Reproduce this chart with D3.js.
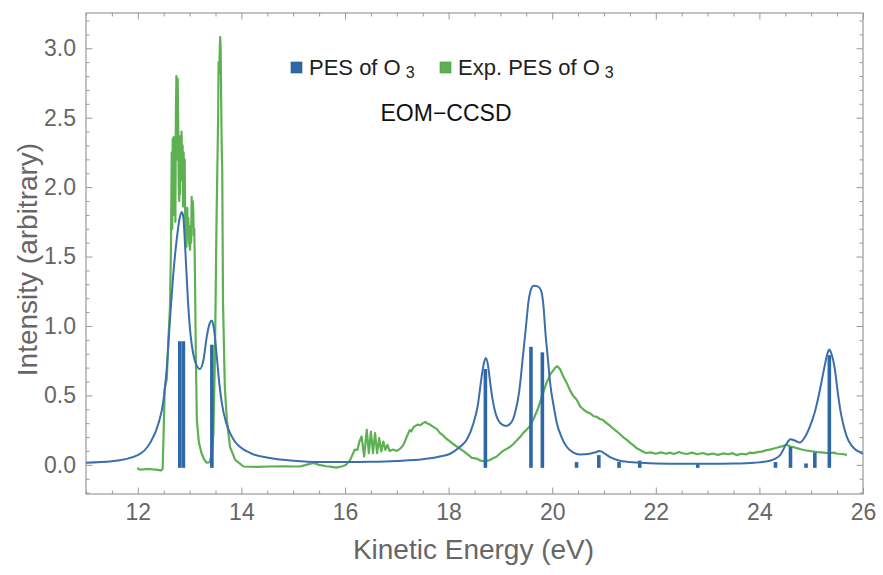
<!DOCTYPE html>
<html>
<head>
<meta charset="utf-8">
<script src="https://cdn.jsdelivr.net/npm/d3@7"></script>
<style>
body { margin: 0; background: #fff; }
text { font-family: "Liberation Sans", Arial, sans-serif; }
.axis text { fill: #666; font-size: 23px; }
.axis line { stroke: #999; }
</style>
</head>
<body>
<svg id="chart" width="883" height="575"></svg>
<script>
// calculated stick spectrum: [kinetic energy (eV), intensity]
const pesSticks = [
    [12.81, 0.89], [12.88, 0.89], [13.43, 0.865], [18.71, 0.69],
    [19.59, 0.85], [19.81, 0.81], [20.47, 0.02], [20.9, 0.07],
    [21.29, 0.02], [21.69, 0.03], [22.81, 0.005], [24.31, 0.02],
    [24.6, 0.13], [24.9, 0.01], [25.07, 0.09], [25.35, 0.79]
];

// broadened calculated spectrum
const pesCurve = [
    [11.0, 0.015], [11.5, 0.025], [12.0, 0.07], [12.24, 0.16], [12.4, 0.3],
    [12.49, 0.45], [12.56, 0.7], [12.62, 1.04], [12.68, 1.35], [12.75, 1.62],
    [12.81, 1.78], [12.85, 1.82], [12.88, 1.78], [12.91, 1.6], [12.97, 1.17],
    [13.02, 0.93], [13.07, 0.8], [13.13, 0.72], [13.2, 0.69], [13.27, 0.76],
    [13.33, 0.92], [13.39, 1.02], [13.43, 1.04], [13.47, 0.98], [13.52, 0.8],
    [13.57, 0.6], [13.62, 0.45], [13.7, 0.31], [13.78, 0.23], [13.87, 0.17],
    [13.97, 0.13], [14.2, 0.08], [14.55, 0.05], [15.0, 0.03], [15.5, 0.02],
    [16.0, 0.02], [16.5, 0.022], [17.0, 0.028], [17.5, 0.04], [17.83, 0.06],
    [18.03, 0.08], [18.22, 0.13], [18.35, 0.18], [18.48, 0.3], [18.56, 0.42],
    [18.64, 0.64], [18.68, 0.73], [18.72, 0.77], [18.76, 0.72], [18.8, 0.6],
    [18.85, 0.47], [18.9, 0.38], [19.0, 0.3], [19.11, 0.28], [19.2, 0.3],
    [19.28, 0.37], [19.36, 0.52], [19.44, 0.8], [19.5, 1.02], [19.54, 1.17],
    [19.58, 1.25], [19.64, 1.29], [19.72, 1.285], [19.78, 1.26], [19.83, 1.15],
    [19.87, 0.95], [19.92, 0.75], [19.96, 0.59], [20.03, 0.42], [20.09, 0.3],
    [20.18, 0.2], [20.28, 0.13], [20.4, 0.09], [20.54, 0.075], [20.7, 0.078],
    [20.83, 0.09], [20.92, 0.1], [21.0, 0.085], [21.12, 0.055], [21.3, 0.03],
    [21.63, 0.017], [22.0, 0.01], [22.5, 0.007], [23.0, 0.007], [23.5, 0.009],
    [23.9, 0.015], [24.2, 0.03], [24.4, 0.07], [24.52, 0.15], [24.6, 0.185],
    [24.68, 0.175], [24.78, 0.16], [24.88, 0.2], [24.98, 0.28], [25.07, 0.38],
    [25.14, 0.49], [25.2, 0.6], [25.27, 0.73], [25.32, 0.81], [25.35, 0.83],
    [25.39, 0.8], [25.46, 0.68], [25.51, 0.53], [25.56, 0.4], [25.62, 0.29],
    [25.69, 0.2], [25.8, 0.13], [25.97, 0.085], [26.0, 0.08]
];

// experimental spectrum
const expCurve = [
    [12.0, -0.02], [12.01, -0.03], [12.05, -0.035], [12.2, -0.03], [12.35, -0.035],
    [12.45, -0.04], [12.48, -0.03], [12.5, 0.25], [12.52, 0.55], [12.56, 0.62],
    [12.59, 0.9], [12.62, 1.12], [12.64, 1.55], [12.655, 2.25], [12.665, 1.7],
    [12.675, 2.35], [12.685, 1.95], [12.695, 2.36], [12.705, 1.8], [12.715, 2.2],
    [12.725, 1.75], [12.735, 2.5], [12.745, 2.8], [12.76, 2.2], [12.77, 2.78],
    [12.78, 2.45], [12.79, 2.0], [12.8, 1.9], [12.81, 2.3], [12.815, 1.95],
    [12.825, 2.37], [12.835, 2.05], [12.845, 2.4], [12.855, 2.1], [12.865, 2.3],
    [12.875, 1.86], [12.885, 2.25], [12.895, 1.95], [12.905, 2.2], [12.915, 1.76],
    [12.93, 1.7], [12.94, 1.57], [12.955, 1.85], [12.965, 1.65], [12.975, 1.78],
    [12.99, 1.6], [13.01, 1.55], [13.02, 1.72], [13.03, 1.6], [13.04, 1.93],
    [13.05, 1.75], [13.06, 1.9], [13.07, 1.84], [13.08, 1.65], [13.09, 1.7],
    [13.1, 1.48], [13.12, 0.8], [13.14, 0.32], [13.18, 0.16], [13.23, 0.085],
    [13.28, 0.04], [13.33, 0.015], [13.39, 0.02], [13.43, 0.08], [13.46, 0.23],
    [13.49, 0.8], [13.52, 1.76], [13.55, 2.48], [13.56, 2.9], [13.57, 2.82],
    [13.59, 3.08], [13.6, 3.0], [13.61, 2.6], [13.62, 2.3], [13.63, 2.12],
    [13.645, 1.17], [13.68, 0.56], [13.72, 0.32], [13.78, 0.13], [13.88, 0.036],
    [14.04, -0.012], [14.3, -0.015], [14.55, -0.012], [14.8, -0.01], [15.0, -0.012],
    [15.13, -0.012], [15.25, 0.0], [15.39, 0.013], [15.5, 0.0], [15.64, -0.01],
    [15.75, -0.015], [15.83, -0.02], [15.95, -0.01], [16.02, 0.0], [16.1, 0.036],
    [16.19, 0.11], [16.24, 0.108], [16.28, 0.17], [16.32, 0.204], [16.37, 0.06],
    [16.42, 0.252], [16.46, 0.084], [16.5, 0.24], [16.54, 0.084], [16.58, 0.228],
    [16.62, 0.084], [16.66, 0.192], [16.7, 0.096], [16.74, 0.168], [16.78, 0.108],
    [16.82, 0.144], [16.86, 0.1], [16.93, 0.11], [17.0, 0.1], [17.06, 0.115],
    [17.12, 0.14], [17.16, 0.17], [17.19, 0.2], [17.25, 0.25], [17.28, 0.24],
    [17.32, 0.27], [17.36, 0.28], [17.4, 0.29], [17.45, 0.285], [17.51, 0.3],
    [17.55, 0.31], [17.58, 0.3], [17.64, 0.29], [17.72, 0.27], [17.78, 0.255],
    [17.83, 0.23], [17.9, 0.21], [17.95, 0.19], [18.02, 0.17], [18.09, 0.15],
    [18.2, 0.12], [18.28, 0.1], [18.35, 0.08], [18.45, 0.05], [18.54, 0.045],
    [18.62, 0.03], [18.7, 0.025], [18.8, 0.035], [18.87, 0.05], [18.93, 0.06],
    [19.0, 0.085], [19.05, 0.1], [19.12, 0.115], [19.19, 0.13], [19.25, 0.15],
    [19.3, 0.17], [19.38, 0.2], [19.44, 0.23], [19.5, 0.25], [19.57, 0.28],
    [19.64, 0.33], [19.72, 0.4], [19.8, 0.49], [19.89, 0.59], [19.96, 0.65],
    [20.02, 0.68], [20.06, 0.7], [20.1, 0.71], [20.15, 0.69], [20.21, 0.64],
    [20.28, 0.59], [20.34, 0.54], [20.4, 0.5], [20.47, 0.47], [20.54, 0.42],
    [20.6, 0.4], [20.67, 0.38], [20.74, 0.37], [20.8, 0.35], [20.86, 0.345],
    [20.92, 0.33], [20.97, 0.325], [21.02, 0.31], [21.07, 0.295], [21.12, 0.28],
    [21.18, 0.26], [21.25, 0.24], [21.31, 0.22], [21.37, 0.2], [21.44, 0.18],
    [21.5, 0.16], [21.57, 0.14], [21.63, 0.12], [21.68, 0.11], [21.73, 0.1],
    [21.78, 0.09], [21.82, 0.085], [21.9, 0.09], [22.0, 0.08], [22.1, 0.09],
    [22.2, 0.08], [22.27, 0.088], [22.35, 0.078], [22.45, 0.092], [22.5, 0.085],
    [22.6, 0.078], [22.7, 0.088], [22.8, 0.076], [22.91, 0.085], [23.0, 0.074],
    [23.1, 0.082], [23.2, 0.072], [23.3, 0.082], [23.4, 0.076], [23.48, 0.084],
    [23.56, 0.07], [23.65, 0.08], [23.75, 0.076], [23.82, 0.088], [23.88, 0.084],
    [23.96, 0.092], [24.05, 0.095], [24.12, 0.104], [24.2, 0.11], [24.28, 0.118],
    [24.35, 0.125], [24.45, 0.135], [24.53, 0.145], [24.6, 0.13], [24.66, 0.128],
    [24.72, 0.12], [24.8, 0.112], [24.88, 0.105], [24.96, 0.1], [25.04, 0.096],
    [25.12, 0.092], [25.2, 0.09], [25.28, 0.086], [25.36, 0.084], [25.44, 0.088],
    [25.5, 0.08], [25.6, 0.078], [25.69, 0.072]
];

const xTicks = [12, 14, 16, 18, 20, 22, 24, 26];
const yTicks = [0, 0.5, 1.0, 1.5, 2.0, 2.5, 3.0];

const blue = '#3a6fab';
const stickBlue = '#2f68a8';
const green = '#5db152';

const svg = d3.select('#chart');
const margin = { top: 13, right: 20, bottom: 81, left: 86 };
const width = +svg.attr('width') - margin.left - margin.right;
const height = +svg.attr('height') - margin.top - margin.bottom;

const x = d3.scaleLinear().domain([11, 26]).range([0, width]);
const y = d3.scaleLinear().domain([-0.21, 3.254]).range([height, 0]);

const g = svg.append('g').attr('transform', `translate(${margin.left},${margin.top})`);

g.append('clipPath').attr('id', 'plot')
    .append('rect').attr('width', width).attr('height', height);

const xMinor = d3.range(11, 26.01, 0.5).filter(v => !xTicks.includes(v));
const yMinor = d3.range(-0.2, 3.25, 0.1).map(v => +v.toFixed(1)).filter(v => !yTicks.includes(v));

function addAxis(axisFn, scale, major, minor, transform, labelled) {
    const a = g.append('g').attr('class', 'axis').attr('transform', transform);
    a.append('g').call(axisFn(scale).tickValues(minor).tickSize(-3.5).tickFormat(''));
    a.append('g').call(axisFn(scale).tickValues(major).tickSize(-6.5)
        .tickPadding(labelled ? 10 : 0)
        .tickFormat(labelled ? (axisFn === d3.axisLeft ? d3.format('.1f') : d3.format('d')) : ''));
    a.selectAll('.domain').remove();
    a.selectAll('text').attr('font-family', null).attr('font-size', null);
}

addAxis(d3.axisBottom, x, xTicks, xMinor, `translate(0,${height})`, true);
addAxis(d3.axisTop, x, xTicks, xMinor, 'translate(0,0)', false);
addAxis(d3.axisLeft, y, yTicks, yMinor, 'translate(0,0)', true);
addAxis(d3.axisRight, y, yTicks, yMinor, `translate(${width},0)`, false);

g.append('rect')
    .attr('width', width).attr('height', height)
    .attr('fill', 'none').attr('stroke', '#999').attr('stroke-width', 1.2);

const plot = g.append('g').attr('clip-path', 'url(#plot)');

plot.append('path')
    .datum(expCurve)
    .attr('fill', 'none')
    .attr('stroke', green)
    .attr('stroke-width', 2.2)
    .attr('stroke-linejoin', 'round')
    .attr('d', d3.line().x(d => x(d[0])).y(d => y(d[1])));

plot.selectAll('rect.stick')
    .data(pesSticks)
    .enter()
    .append('rect')
    .attr('class', 'stick')
    .attr('x', d => x(d[0]) - 1.8)
    .attr('width', 3.6)
    .attr('y', d => y(d[1]))
    .attr('height', d => y(0) - y(d[1]) + 3)
    .attr('fill', stickBlue);

plot.append('path')
    .datum(pesCurve)
    .attr('fill', 'none')
    .attr('stroke', blue)
    .attr('stroke-width', 2)
    .attr('d', d3.line().curve(d3.curveMonotoneX).x(d => x(d[0])).y(d => y(d[1])));

// axis titles
svg.append('text')
    .attr('x', margin.left + width / 2 - 1)
    .attr('y', 559)
    .attr('text-anchor', 'middle')
    .attr('fill', '#666')
    .attr('font-size', 28)
    .text('Kinetic Energy (eV)');

svg.append('text')
    .attr('transform', `translate(37,${margin.top + height / 2 + 6}) rotate(-90)`)
    .attr('text-anchor', 'middle')
    .attr('fill', '#666')
    .attr('font-size', 28)
    .text('Intensity (arbitrary)');

// legend
const legend = [
    { label: 'PES of O', color: stickBlue, x: 291 },
    { label: 'Exp. PES of O', color: green, x: 440 }
];
const lg = svg.append('g');
legend.forEach((d) => {
    lg.append('rect')
        .attr('x', d.x).attr('y', 62).attr('width', 11).attr('height', 11)
        .attr('fill', d.color).attr('stroke', d3.color(d.color).darker(0.6)).attr('stroke-width', 0.6);
    const t = lg.append('text')
        .attr('x', d.x + 18).attr('y', 75)
        .attr('font-size', 22).attr('fill', '#222')
        .text(d.label);
    t.append('tspan').attr('dx', 5).attr('dy', 3).attr('font-size', 16).text('3');
});

svg.append('text')
    .attr('x', 446).attr('y', 121)
    .attr('text-anchor', 'middle')
    .attr('font-size', 23)
    .attr('fill', '#111')
    .text('EOM\u2212CCSD');
</script>
</body>
</html>
